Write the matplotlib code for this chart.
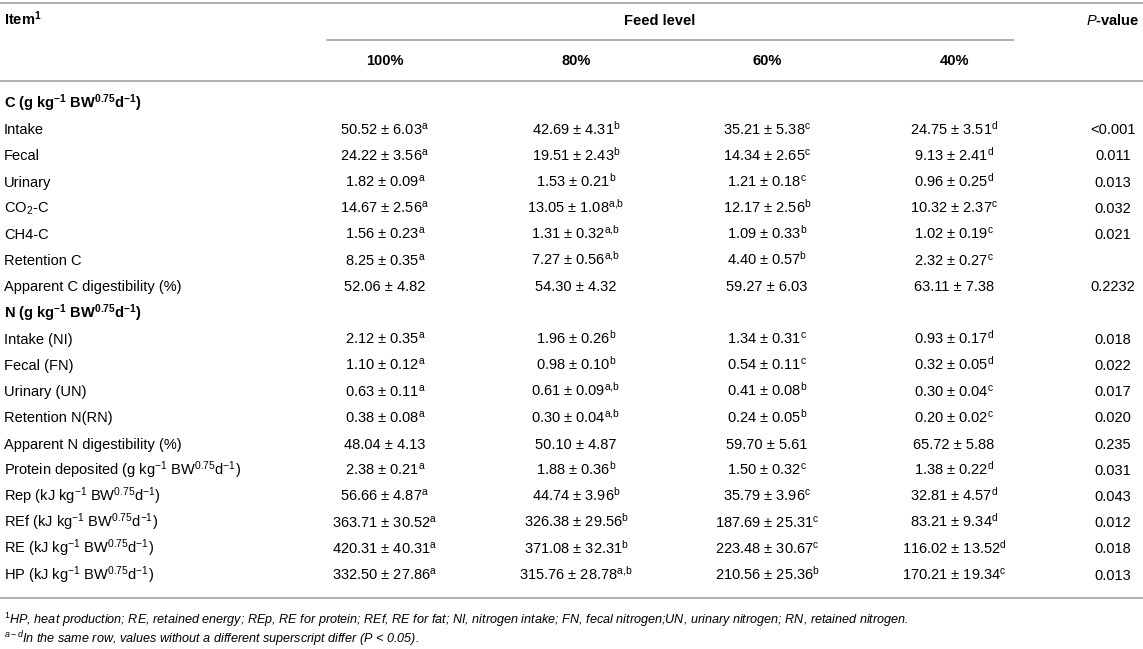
import matplotlib
matplotlib.use("Agg")
import matplotlib.pyplot as plt

plt.rcParams['font.family'] = ['Liberation Sans', 'DejaVu Sans']
plt.rcParams['mathtext.fontset'] = 'custom'
plt.rcParams['mathtext.rm'] = 'Liberation Sans'
plt.rcParams['mathtext.it'] = 'Liberation Sans:italic'
plt.rcParams['mathtext.bf'] = 'Liberation Sans:bold'

UNIT = "g kg$^{-1}$ BW$^{0.75}$d$^{-1}$"
KJ = "kJ kg$^{-1}$ BW$^{0.75}$d$^{-1}$"

# table data
levels = ["100%", "80%", "60%", "40%"]
items = ["Intake", "Fecal", "Urinary", "CO$_2$-C", "CH4-C", "Retention C",
         "Apparent C digestibility (%)",
         "Intake (NI)", "Fecal (FN)", "Urinary (UN)", "Retention N(RN)",
         "Apparent N digestibility (%)", "Protein deposited (" + UNIT + ")",
         "Rep (" + KJ + ")", "REf (" + KJ + ")", "RE (" + KJ + ")", "HP (" + KJ + ")"]

mean_100 = ["50.52", "24.22", "1.82", "14.67", "1.56", "8.25", "52.06",
            "2.12", "1.10", "0.63", "0.38", "48.04", "2.38", "56.66", "363.71", "420.31", "332.50"]
sd_100 = ["6.03", "3.56", "0.09", "2.56", "0.23", "0.35", "4.82",
          "0.35", "0.12", "0.11", "0.08", "4.13", "0.21", "4.87", "30.52", "40.31", "27.86"]
sup_100 = ["a", "a", "a", "a", "a", "a", "",
           "a", "a", "a", "a", "", "a", "a", "a", "a", "a"]

mean_80 = ["42.69", "19.51", "1.53", "13.05", "1.31", "7.27", "54.30",
           "1.96", "0.98", "0.61", "0.30", "50.10", "1.88", "44.74", "326.38", "371.08", "315.76"]
sd_80 = ["4.31", "2.43", "0.21", "1.08", "0.32", "0.56", "4.32",
         "0.26", "0.10", "0.09", "0.04", "4.87", "0.36", "3.96", "29.56", "32.31", "28.78"]
sup_80 = ["b", "b", "b", "a,b", "a,b", "a,b", "",
          "b", "b", "a,b", "a,b", "", "b", "b", "b", "b", "a,b"]

mean_60 = ["35.21", "14.34", "1.21", "12.17", "1.09", "4.40", "59.27",
           "1.34", "0.54", "0.41", "0.24", "59.70", "1.50", "35.79", "187.69", "223.48", "210.56"]
sd_60 = ["5.38", "2.65", "0.18", "2.56", "0.33", "0.57", "6.03",
         "0.31", "0.11", "0.08", "0.05", "5.61", "0.32", "3.96", "25.31", "30.67", "25.36"]
sup_60 = ["c", "c", "c", "b", "b", "b", "",
          "c", "c", "b", "b", "", "c", "c", "c", "c", "b"]

mean_40 = ["24.75", "9.13", "0.96", "10.32", "1.02", "2.32", "63.11",
           "0.93", "0.32", "0.30", "0.20", "65.72", "1.38", "32.81", "83.21", "116.02", "170.21"]
sd_40 = ["3.51", "2.41", "0.25", "2.37", "0.19", "0.27", "7.38",
         "0.17", "0.05", "0.04", "0.02", "5.88", "0.22", "4.57", "9.34", "13.52", "19.34"]
sup_40 = ["d", "d", "d", "c", "c", "c", "",
          "d", "d", "c", "c", "", "d", "d", "d", "d", "c"]

p_values = ["<0.001", "0.011", "0.013", "0.032", "0.021", "", "0.2232",
            "0.018", "0.022", "0.017", "0.020", "0.235", "0.031", "0.043", "0.012", "0.018", "0.013"]

sections = {0: "C", 7: "N"}  # heading inserted before these rows

footnote1 = "$^{1}$HP, heat production; RE, retained energy; REp, RE for protein; REf, RE for fat; NI, nitrogen intake; FN, fecal nitrogen;UN, urinary nitrogen; RN, retained nitrogen."
footnote2 = "$^{a-d}$In the same row, values without a different superscript differ (P < 0.05)."

columns = [(mean_100, sd_100, sup_100), (mean_80, sd_80, sup_80),
           (mean_60, sd_60, sup_60), (mean_40, sd_40, sup_40)]

W, H = 1143, 649
fig = plt.figure(figsize=(W / 100, H / 100), dpi=100)
ax = fig.add_axes([0, 0, 1, 1])
ax.set_xlim(0, W)
ax.set_ylim(H, 0)
ax.axis('off')

fs = 10.5
rule = '#aaaaaa'
col_x = [385, 576, 767, 954]
p_x = 1113
left = 4
base = 5  # baseline offset from row centre

# header
ax.plot([0, W], [3, 3], color=rule, lw=1.3)
ax.text(left, 20 + base, "Item$^{\\mathbf{1}}$", fontsize=fs, fontweight='bold', va='baseline')
ax.text(660, 20 + base, "Feed level", fontsize=fs, fontweight='bold', va='baseline', ha='center')
ax.text(p_x, 20 + base, "$\\mathbf{\\mathit{P}}$-value", fontsize=fs, fontweight='bold',
        va='baseline', ha='center')
ax.plot([327, 1013], [40, 40], color=rule, lw=1.3)
for x, lv in zip(col_x, levels):
    ax.text(x, 60 + base, lv, fontsize=fs, fontweight='bold', va='baseline', ha='center')
ax.plot([0, W], [81, 81], color=rule, lw=1.3)

# body
y = 103
step = 26.2
for i, item in enumerate(items):
    if i in sections:
        head = sections[i] + " (g kg$^{\\mathbf{-1}}$ BW$^{\\mathbf{0.75}}$d$^{\\mathbf{-1}}$)"
        ax.text(left, y + base, head, fontsize=fs, fontweight='bold', va='baseline')
        y += step
    ax.text(left, y + base, item, fontsize=fs, va='baseline')
    for x, (m, s, sp) in zip(col_x, columns):
        txt = m[i] + " ± " + s[i]
        if sp[i]:
            txt += "$^{\\mathrm{" + sp[i].replace(",", "{,}") + "}}$"
        ax.text(x, y + base, txt, fontsize=fs, va='baseline', ha='center')
    ax.text(p_x, y + base, p_values[i], fontsize=fs, va='baseline', ha='center')
    y += step

ax.plot([0, W], [598, 598], color=rule, lw=1.3)

ax.text(left, 624, footnote1, fontsize=9.1, style='italic', va='baseline')
ax.text(left, 643, footnote2, fontsize=9.1, style='italic', va='baseline')

fig.savefig("out.png", dpi=100)
